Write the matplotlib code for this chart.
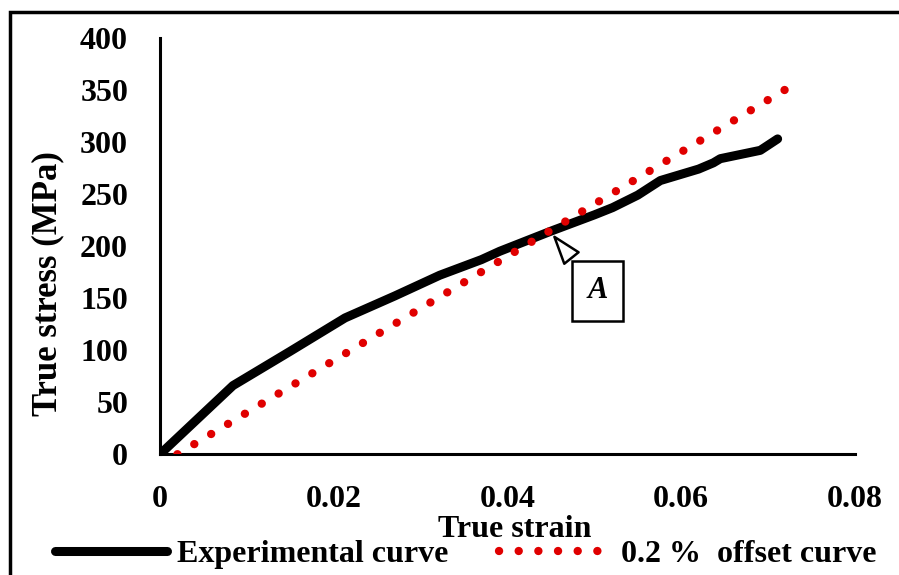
import matplotlib
matplotlib.use('Agg')
import matplotlib.pyplot as plt
from matplotlib.patches import Rectangle

# experimental true stress-strain curve
exp_strain = [0, 0.0084, 0.0150, 0.0213, 0.0270, 0.0322, 0.0370, 0.0391, 0.0452,
              0.0500, 0.0521, 0.0550, 0.0576, 0.0620, 0.0637, 0.0645, 0.0691, 0.0711]
exp_stress = [0, 66, 99, 131, 152, 172, 187, 195, 215,
              230, 237, 249, 263, 274, 280, 284, 292, 303]

# 0.2 % offset line
off_strain = [0.002, 0.0721]
off_stress = [0, 351]

x_ticks = [0, 0.02, 0.04, 0.06, 0.08]
x_ticklabels = ['0', '0.02', '0.04', '0.06', '0.08']
y_ticks = [0, 50, 100, 150, 200, 250, 300, 350, 400]

point_A = (0.0452, 211)

plt.rcParams['font.family'] = ['Liberation Serif', 'DejaVu Serif']
plt.rcParams['font.weight'] = 'bold'

fig = plt.figure(figsize=(8.99, 5.75), dpi=100)
ax = fig.add_axes([0.178, 0.21, 0.773, 0.724])

ax.plot(exp_strain, exp_stress, color='black', lw=6.5, solid_capstyle='round',
        solid_joinstyle='round', label='Experimental curve', zorder=3)
ax.plot(off_strain, off_stress, color='#e00000', lw=6,
        linestyle=(0, (0.01, 2.35)), dash_capstyle='round',
        label='0.2 %  offset curve', zorder=4)

ax.set_xlim(0, 0.08)
ax.set_ylim(0, 400)
ax.set_xticks(x_ticks)
ax.set_xticklabels(x_ticklabels)
ax.set_yticks(y_ticks)
ax.tick_params(length=0, labelsize=23)
ax.tick_params(axis='x', pad=22)
ax.tick_params(axis='y', pad=23)
for s in ['top', 'right']:
    ax.spines[s].set_visible(False)
for s in ['left', 'bottom']:
    ax.spines[s].set_linewidth(2.2)

ax.set_xlabel('True strain', fontsize=23, fontweight='bold')
ax.xaxis.set_label_coords(0.51, -0.145)
ax.set_ylabel('True stress (MPa)', fontsize=25, fontweight='bold')
ax.yaxis.set_label_coords(-0.138, 0.41)

# callout box "A" pointing at the crossing of the two curves
ax.annotate('A', xy=point_A, xytext=(0.0504, 157), fontsize=22,
            fontweight='bold', style='italic', ha='center', va='center',
            bbox=dict(boxstyle='square,pad=0.5', fc='white', ec='black', lw=1.8),
            arrowprops=dict(arrowstyle='wedge,tail_width=0.6,shrink_factor=0.5',
                            fc='white', ec='black', lw=1.8), zorder=5)

leg = ax.legend(loc='center', bbox_to_anchor=(0.44, -0.24), ncol=2, frameon=False,
                fontsize=23, handlelength=3.5, handletextpad=0.3, columnspacing=1.6,
                borderpad=0)

fig.patches.append(Rectangle((10 / 899, -0.1), 1.2, 1.1 - 12 / 575,
                             transform=fig.transFigure, fill=False,
                             ec='black', lw=2.5))

fig.savefig('out.png', dpi=100)
